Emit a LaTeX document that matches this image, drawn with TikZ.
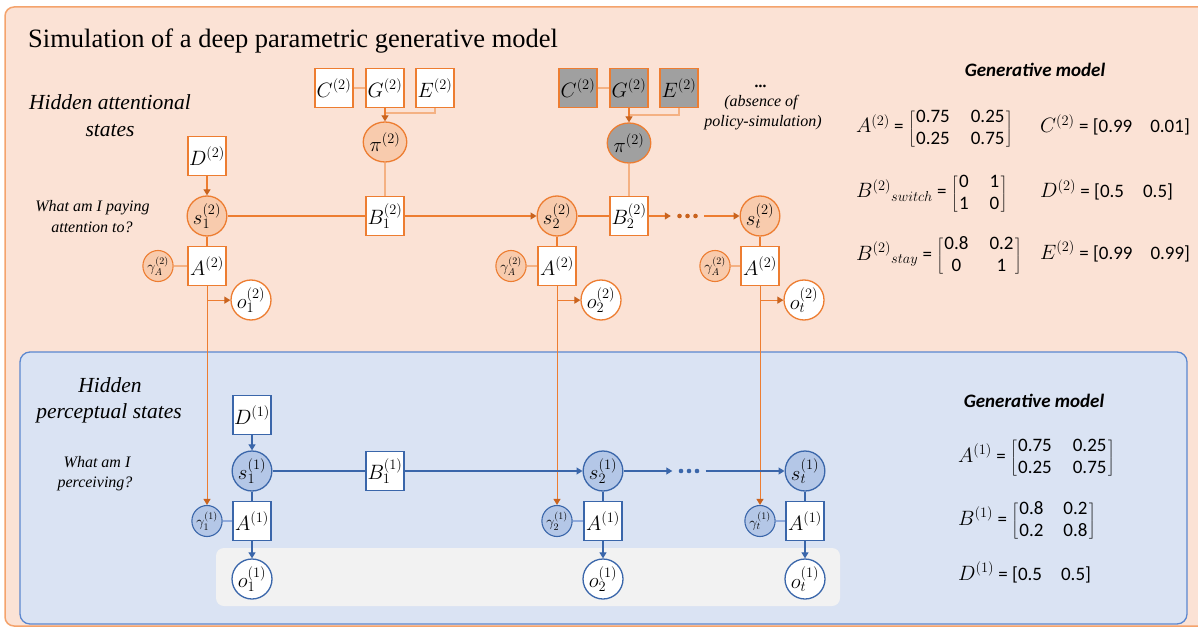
\documentclass[tikz,border=0pt]{standalone}
\usepackage{fontspec}
\setmainfont{Liberation Serif}
\newfontfamily\carl{Carlito}
\usetikzlibrary{shapes.geometric,arrows.meta,calc}
\definecolor{peach}{HTML}{FBE2D5}
\definecolor{peachline}{HTML}{F4A36C}
\definecolor{orn}{HTML}{ED7D31}
\definecolor{ornfill}{HTML}{F8CBAD}
\definecolor{orndark}{HTML}{C9631E}
\definecolor{ornlight}{HTML}{F4B183}
\definecolor{bluebg}{HTML}{DAE3F3}
\definecolor{blueline}{HTML}{5B87CF}
\definecolor{bluenode}{HTML}{3A66AA}
\definecolor{bluefill}{HTML}{B4C7E7}
\definecolor{bluelight}{HTML}{8FAADC}
\definecolor{grayfill}{HTML}{A0A0A0}
\definecolor{obsbg}{HTML}{F2F2F2}
\delimiterfactor=750
\delimitershortfall=14pt
\newcommand\mtx[2]{\left[\hbox{\carl\fontsize{19}{22}\selectfont\begin{tabular}{@{\hspace{1.5pt}}#1@{\hspace{1.5pt}}}#2\end{tabular}}\right]}
\newcommand\mv[1]{{\fontsize{20.74}{22}\selectfont$#1$}}
\tikzset{
  nf/.style={font=\fontsize{20.74}{22}\selectfont, inner sep=0pt},
  obox/.style={nf, rectangle, draw=orn, line width=1.3pt, fill=white, minimum width=38pt, minimum height=39pt},
  ogbox/.style={obox, fill=grayfill},
  ostate/.style={nf, ellipse, draw=orn, line width=1.3pt, fill=ornfill, minimum width=38pt, minimum height=40pt},
  oobs/.style={ostate, fill=white},
  ogam/.style={ellipse, draw=orn, line width=1.1pt, fill=ornfill, minimum width=29pt, minimum height=31pt, inner sep=0pt, font=\fontsize{14.4}{15}\selectfont},
  bbox/.style={obox, draw=bluenode},
  bstate/.style={ostate, draw=bluenode, fill=bluefill},
  bobs/.style={bstate, fill=white},
  bgam/.style={ogam, draw=bluenode, fill=bluefill},
  oline/.style={draw=orn, line width=1.2pt},
  olight/.style={draw=ornlight, line width=1.2pt},
  oarr/.style={oline, -{Triangle[length=6pt,width=7pt,color=orndark]}},
  bline/.style={draw=bluenode, line width=1.2pt},
  blight/.style={draw=bluelight, line width=1.2pt},
  barr/.style={bline, -{Triangle[length=6pt,width=7pt]}},
  dotsnode/.style={minimum width=33pt, minimum height=6pt, inner sep=0pt},
  lbl/.style={anchor=base, inner sep=0pt},
  headfont/.style={font=\itshape\fontsize{21.5}{27}\selectfont},
  qfont/.style={font=\itshape\fontsize{16}{20}\selectfont},
  eq/.style={anchor=base west, inner sep=0pt, font=\carl\fontsize{19}{22}\selectfont},
  genfont/.style={anchor=base, inner sep=0pt, font=\carl\bfseries\itshape\fontsize{19}{22}\selectfont},
}
\begin{document}
\begin{tikzpicture}[x=1pt,y=-1pt]
\useasboundingbox (0,0) rectangle (1198,628);
\clip (0,0) rectangle (1198,628);
% backgrounds
\draw[fill=peach, draw=peachline, line width=1.5pt, rounded corners=9pt] (5,7) rectangle (1215,626);
\draw[fill=bluebg, draw=blueline, line width=1.3pt, rounded corners=10pt] (20,352) rectangle (1187,624);
\fill[obsbg, rounded corners=8pt] (216,548) rectangle (840,606);

% title and labels
\node[anchor=base west, inner sep=0pt, font=\fontsize{26.5}{30}\selectfont] (title) at (28,48) {Simulation of a deep parametric generative model};
\node[lbl, headfont] (hat1) at (110,110) {Hidden attentional};
\node[lbl, headfont] (hat2) at (110,137) {states};
\node[lbl, qfont] (q21) at (92.5,212) {What am I paying};
\node[lbl, qfont] (q22) at (92,233) {attention to?};
\node[lbl, qfont] (abs0) at (761,88) {\textbf{...}};
\node[lbl, qfont] (abs1) at (761,107) {(absence of};
\node[lbl, qfont] (abs2) at (763,127) {policy-simulation)};
\node[lbl, headfont] (hp1) at (110,392) {Hidden};
\node[lbl, headfont] (hp2) at (109,418) {perceptual states};
\node[lbl, qfont] (q11) at (97,467) {What am I};
\node[lbl, qfont] (q12) at (95,487) {perceiving?};

% level 2 nodes
\node[obox] (C2a) at (334,88) {$C^{(2)}$};
\node[obox] (G2a) at (385,88) {$G^{(2)}$};
\node[obox] (E2a) at (435,88) {$E^{(2)}$};
\node[ostate] (pi2a) at (385,142) {$\pi^{(2)}$};
\node[ogbox] (C2b) at (578,88) {$C^{(2)}$};
\node[ogbox] (G2b) at (629,88) {$G^{(2)}$};
\node[ogbox] (E2b) at (679,88) {$E^{(2)}$};
\node[ostate, fill=grayfill] (pi2b) at (629,143) {$\pi^{(2)}$};
\node[obox] (D2) at (207,156) {$D^{(2)}$};
\node[ostate] (s12) at (207,216) {$s_1^{(2)}$};
\node[obox] (B12) at (385,216) {$B_1^{(2)}$};
\node[ostate] (s22) at (557,216) {$s_2^{(2)}$};
\node[obox] (B22) at (629,216) {$B_2^{(2)}$};
\node[dotsnode] (dA) at (687.5,216) {};
\node[ostate] (st2) at (760,216) {$s_t^{(2)}$};
\node[obox] (A12) at (207,266) {$A^{(2)}$};
\node[obox] (A22) at (557,266) {$A^{(2)}$};
\node[obox] (At2) at (760,266) {$A^{(2)}$};
\node[ogam] (g12) at (158,266) {$\gamma_A^{(2)}$};
\node[ogam] (g22) at (511,266) {$\gamma_A^{(2)}$};
\node[ogam] (gt2) at (715,266) {$\gamma_A^{(2)}$};
\node[oobs] (o12) at (251,300) {$o_1^{(2)}$};
\node[oobs] (o22) at (601,300) {$o_2^{(2)}$};
\node[oobs] (ot2) at (804,300) {$o_t^{(2)}$};

% level 1 nodes
\node[bbox] (D1) at (252,415) {$D^{(1)}$};
\node[bstate] (s11) at (252,471) {$s_1^{(1)}$};
\node[bbox] (B11) at (385,471) {$B_1^{(1)}$};
\node[bstate] (s21) at (603,471) {$s_2^{(1)}$};
\node[dotsnode] (dB) at (689,471) {};
\node[bstate] (st1) at (805,471) {$s_t^{(1)}$};
\node[bbox] (A11) at (252,521) {$A^{(1)}$};
\node[bbox] (A21) at (603,521) {$A^{(1)}$};
\node[bbox] (At1) at (805,521) {$A^{(1)}$};
\node[bgam] (g11) at (207,521) {$\gamma_1^{(1)}$};
\node[bgam] (g21) at (557,521) {$\gamma_2^{(1)}$};
\node[bgam] (gt1) at (760,521) {$\gamma_t^{(1)}$};
\node[bobs] (o11) at (252,579) {$o_1^{(1)}$};
\node[bobs] (o21) at (603,579) {$o_2^{(1)}$};
\node[bobs] (ot1) at (805,579) {$o_t^{(1)}$};

% dots
\foreach \dx in {-8,0,8} {
  \fill[orndark] ($(dA.center)+(\dx,0)$) circle (2.3pt);
  \fill[bluenode] ($(dB.center)+(\dx,0)$) circle (2.3pt);
}

% level 2 connectors
\draw[olight] (C2a) -- (G2a);
\coordinate (j1) at (385,113);
\draw[olight] (E2a.south) |- (j1);
\draw[oarr] (G2a) -- (pi2a);
\draw[olight] (pi2a) -- (B12);
\draw[olight] (C2b) -- (G2b);
\coordinate (j2) at (629,115);
\draw[olight] (E2b.south) |- (j2);
\draw[oarr] (G2b) -- (pi2b);
\draw[olight] (pi2b) -- (B22);
\draw[oarr] (D2) -- (s12);
\draw[oline] (s12) -- (B12);
\draw[oarr] (B12) -- (s22);
\draw[oline] (s22) -- (B22);
\draw[oarr] (B22) -- (dA.west);
\draw[oarr] (dA.east) -- (st2);
\foreach \s/\a/\g/\o/\l in {s12/A12/g12/o12/g11, s22/A22/g22/o22/g21, st2/At2/gt2/ot2/gt1} {
  \draw[oline] (\s) -- (\a);
  \draw[olight] (\g) -- (\a);
  \draw[oarr, line width=1pt] (\a) -- (\l);
  \coordinate (br-\a) at ($(\a.south)+(0,14)$);
  \draw[oarr] (br-\a) -- (br-\a -| \o.west);
}

% level 1 connectors
\draw[barr] (D1) -- (s11);
\draw[bline] (s11) -- (B11);
\draw[barr] (B11) -- (s21);
\draw[barr] (s21) -- (dB.west);
\draw[barr] (dB.east) -- (st1);
\foreach \s/\a/\g/\o in {s11/A11/g11/o11, s21/A21/g21/o21, st1/At1/gt1/ot1} {
  \draw[bline] (\s) -- (\a);
  \draw[blight] (\g) -- (\a);
  \draw[barr] (\a) -- (\o);
}

% generative model text
\node[genfont] (gm2) at (1035,77) {Generative model};
\node[eq] (eqA2) at (856,133) {\mv{A^{(2)}} = $\mtx{c@{\hspace{21pt}}c}{0.75 & 0.25\\0.25 & 0.75}$};
\node[eq] (eqBs) at (856,198) {\mv{B^{(2)}{}_{switch}} = $\mtx{c@{\hspace{21pt}}c}{0 & 1\\1 & 0}$};
\node[eq] (eqBt) at (856,260) {\mv{B^{(2)}{}_{stay}} = $\mtx{c@{\hspace{21pt}}c}{0.8 & 0.2\\0 & 1}$};
\node[eq] (eqC2) at (1040,133) {\mv{C^{(2)}} = [0.99\hspace{18pt}0.01]};
\node[eq] (eqD2) at (1040,198) {\mv{D^{(2)}} = [0.5\hspace{19pt}0.5]};
\node[eq] (eqE2) at (1040,259) {\mv{E^{(2)}} = [0.99\hspace{18pt}0.99]};

\node[genfont] (gm1) at (1034,407) {Generative model};
\node[eq] (eqA1) at (958,462) {\mv{A^{(1)}} = $\mtx{c@{\hspace{21pt}}c}{0.75 & 0.25\\0.25 & 0.75}$};
\node[eq] (eqB1) at (958,525) {\mv{B^{(1)}} = $\mtx{c@{\hspace{20pt}}c}{0.8 & 0.2\\0.2 & 0.8}$};
\node[eq] (eqD1) at (958,580) {\mv{D^{(1)}} = [0.5\hspace{19pt}0.5]};
\end{tikzpicture}
\end{document}
